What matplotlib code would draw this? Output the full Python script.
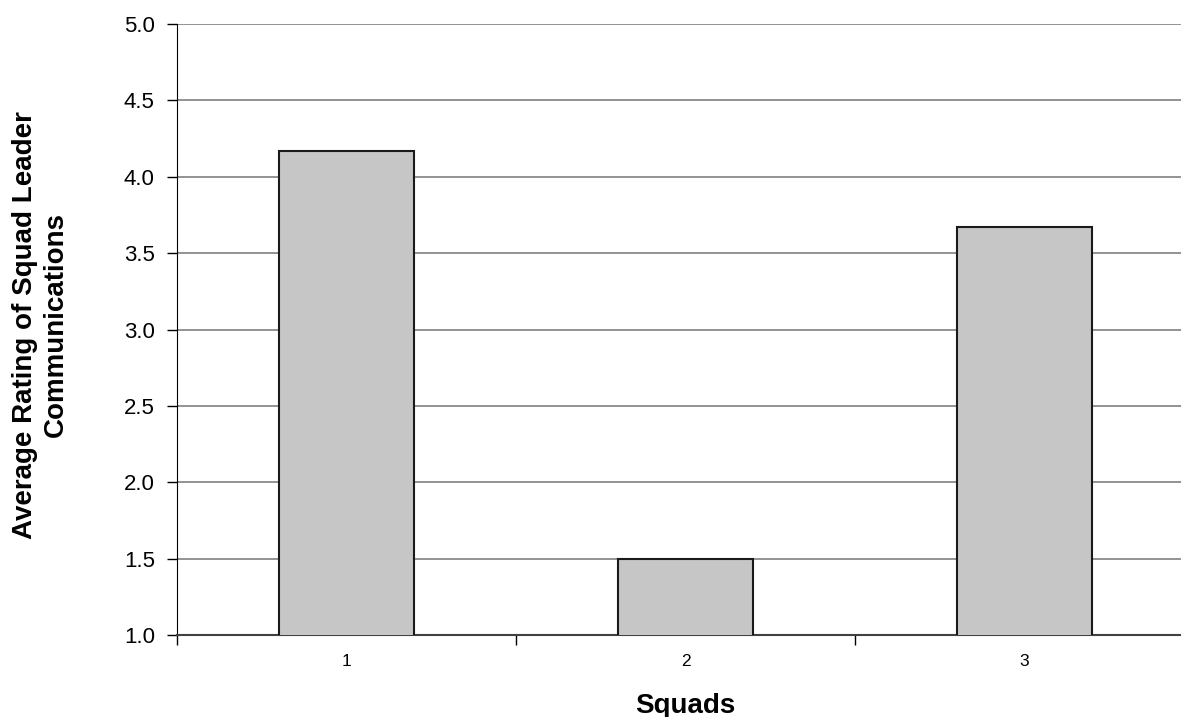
import numpy as np
import matplotlib.pyplot as plt

# Data
squads = [1, 2, 3]
ratings = [4.17, 1.5, 3.67]
yticks = [1.0, 1.5, 2.0, 2.5, 3.0, 3.5, 4.0, 4.5, 5.0]

plt.rcParams['font.family'] = ['Liberation Sans', 'DejaVu Sans']

fig = plt.figure(figsize=(11.81, 7.17), dpi=100)
ax = fig.add_axes([0.1499, 0.1144, 0.861, 0.852])

ax.bar(squads, ratings, width=0.4, bottom=0, color='#c6c6c6',
       edgecolor='#1a1a1a', linewidth=1.5, zorder=3)

ax.set_xlim(0.5, 3.5)
ax.set_ylim(1.0, 5.0)
ax.set_yticks(yticks)
ax.set_yticklabels([f'{v:.1f}' for v in yticks], fontsize=16)
ax.yaxis.grid(True, color='#808080', linewidth=1.2, zorder=0)

ax.set_xticks(squads)
ax.set_xticklabels([str(s) for s in squads], fontsize=12.5)
ax.set_xticks([0.5, 1.5, 2.5, 3.5], minor=True)
ax.tick_params(axis='x', which='major', length=0, pad=14)
ax.tick_params(axis='x', which='minor', length=7, width=1, direction='out')
ax.tick_params(axis='y', length=7, width=1, direction='out', pad=9)

for s in ['top', 'right']:
    ax.spines[s].set_visible(False)
ax.spines['left'].set_color('black')
ax.spines['bottom'].set_color('#404040')
ax.spines['bottom'].set_linewidth(1.5)

ax.set_xlabel('Squads', fontsize=20, fontweight='bold', va='top')
ax.xaxis.set_label_coords(0.5, -0.095)
ax.set_ylabel('Average Rating of Squad Leader\nCommunications', fontsize=20,
              fontweight='bold', linespacing=1.25)
ax.yaxis.set_label_coords(-0.106, 0.508)

plt.savefig('out.png', dpi=100)
